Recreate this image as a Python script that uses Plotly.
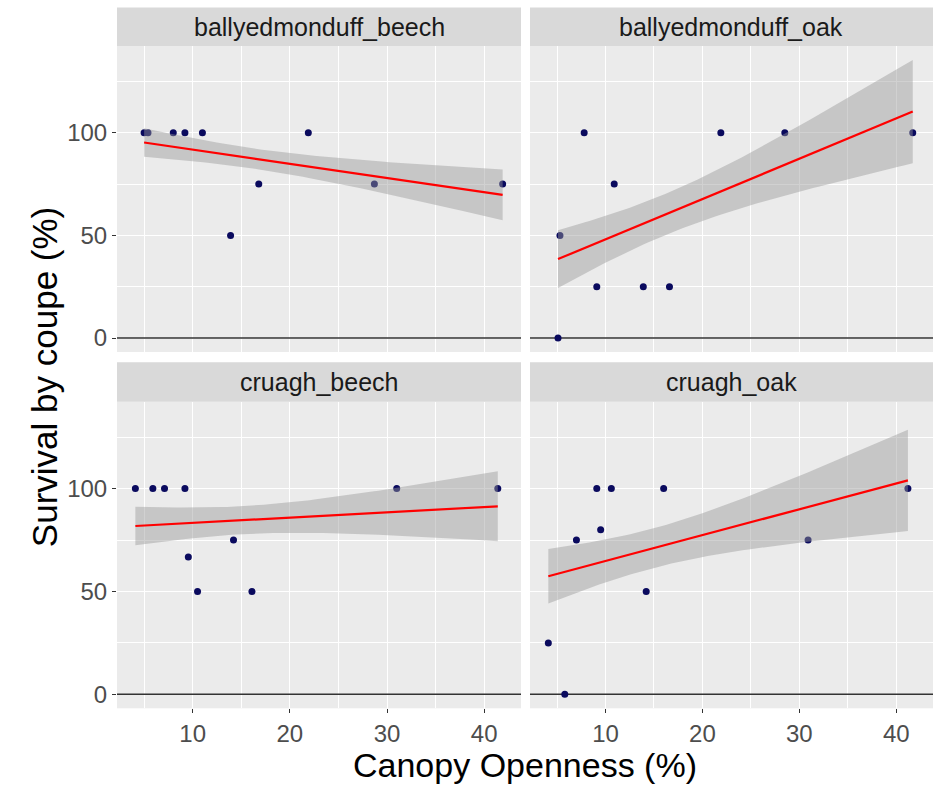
import math
import numpy as np
import plotly.graph_objects as go

# ---------------- data ----------------
panels = ["ballyedmonduff_beech", "ballyedmonduff_oak", "cruagh_beech", "cruagh_oak"]

# canopy openness (%) and survival (%) per coupe
bb_x = [5.0, 5.4, 8.0, 9.2, 11.0, 13.9, 16.8, 21.9, 28.7, 41.9]
bb_y = [100, 100, 100, 100, 100, 50, 75, 100, 75, 75]
bb_n = [4, 4, 4, 4, 4, 4, 4, 4, 4, 4]          # seedlings per coupe

bo_x = [5.1, 5.3, 7.8, 9.1, 10.9, 13.9, 16.6, 21.9, 28.5, 41.7]
bo_y = [0, 50, 100, 25, 75, 25, 25, 100, 100, 100]
bo_n = [4, 4, 4, 4, 4, 4, 4, 4, 4, 4]

cb_x = [4.1, 5.9, 7.1, 9.2, 9.55, 10.5, 14.2, 16.1, 31.0, 41.4]
cb_y = [100, 100, 100, 100, 66.7, 50, 75, 50, 100, 100]
cb_n = [4, 4, 4, 4, 3, 4, 4, 4, 4, 4]

co_x = [4.1, 5.8, 7.0, 9.1, 9.5, 10.6, 14.2, 16.0, 30.9, 41.2]
co_y = [25, 0, 75, 100, 80, 100, 50, 100, 75, 100]
co_n = [4, 4, 4, 4, 5, 4, 4, 4, 4, 4]

xs_data = [bb_x, bo_x, cb_x, co_x]
ys_data = [bb_y, bo_y, cb_y, co_y]
ns_data = [bb_n, bo_n, cb_n, co_n]

x_title = "Canopy Openness (%)"
y_title = "Survival by coupe (%)"
x_ticks = [10, 20, 30, 40]
y_ticks = [0, 50, 100]


def t975(dof):
    try:
        from scipy.stats import t as _t
        return float(_t.ppf(0.975, dof))
    except Exception:
        z = 1.959963985
        g1 = (z ** 3 + z) / 4
        g2 = (5 * z ** 5 + 16 * z ** 3 + 3 * z) / 96
        g3 = (3 * z ** 7 + 19 * z ** 5 + 17 * z ** 3 - 15 * z) / 384
        g4 = (79 * z ** 9 + 776 * z ** 7 + 1482 * z ** 5 - 1920 * z ** 3 - 945 * z) / 92160
        return z + g1 / dof + g2 / dof ** 2 + g3 / dof ** 3 + g4 / dof ** 4


def lm_band(x, y, n_rep, n=80):
    # one row per seedling (the coupe value repeated), as in the original data frame
    x = np.repeat(np.asarray(x, float), n_rep)
    y = np.repeat(np.asarray(y, float), n_rep)
    b, a = np.polyfit(x, y, 1)
    xs = np.linspace(x.min(), x.max(), n)
    fit = a + b * xs
    resid = y - (a + b * x)
    dof = len(x) - 2
    s = math.sqrt((resid ** 2).sum() / dof)
    sxx = ((x - x.mean()) ** 2).sum()
    se = s * np.sqrt(1.0 / len(x) + (xs - x.mean()) ** 2 / sxx)
    t = t975(dof)
    return xs, fit, fit - t * se, fit + t * se


fits = [lm_band(x, y, m) for x, y, m in zip(xs_data, ys_data, ns_data)]

# shared scales (ggplot-like 5% expansion)
all_x = np.concatenate([np.asarray(v, float) for v in xs_data])
xmin, xmax = all_x.min(), all_x.max()
xr = [xmin - 0.05 * (xmax - xmin), xmax + 0.05 * (xmax - xmin)]
all_y = np.concatenate([np.asarray(v, float) for v in ys_data] +
                       [f[2] for f in fits] + [f[3] for f in fits])
ymin, ymax = all_y.min(), all_y.max()
yr = [ymin - 0.05 * (ymax - ymin), ymax + 0.05 * (ymax - ymin)]

# ---------------- layout geometry ----------------
W, H = 944, 785
col_px = [(117, 521), (530, 933)]
row_px = [(46, 352), (401.7, 708.3)]        # panel top/bottom (px from top)
strip_px = [(7.5, 46), (362.3, 401.7)]      # strip top/bottom

FONT = "Liberation Sans, Arial, sans-serif"

fig = go.Figure()
layout = dict(
    width=W, height=H,
    margin=dict(l=0, r=0, t=0, b=0),
    paper_bgcolor="white",
    plot_bgcolor="#ebebeb",
    showlegend=False,
    font=dict(family=FONT),
)
shapes = []
annotations = []

for i, name in enumerate(panels):
    r, c = divmod(i, 2)
    sfx = "" if i == 0 else str(i + 1)
    xa, ya = "x" + sfx, "y" + sfx
    x0p, x1p = col_px[c]
    t0p, b0p = row_px[r]
    st, sb = strip_px[r]

    xdom = [x0p / W, x1p / W]
    ydom = [1 - b0p / H, 1 - t0p / H]

    show_x = (r == 1)
    show_y = (c == 0)

    layout["xaxis" + sfx] = dict(
        domain=xdom, anchor=ya, range=xr, autorange=False,
        tickmode="array", tickvals=x_ticks, ticktext=[str(v) for v in x_ticks],
        showticklabels=show_x, ticks="outside" if show_x else "",
        ticklen=4, tickwidth=1.3, tickcolor="#333333",
        tickfont=dict(family=FONT, size=24, color="#4d4d4d"),
        showgrid=True, gridcolor="white", gridwidth=1.4,
        minor=dict(showgrid=True, gridcolor="white", gridwidth=0.7, tick0=5, dtick=10),
        zeroline=False, showline=False, automargin=False, fixedrange=True,
    )
    layout["yaxis" + sfx] = dict(
        domain=ydom, anchor=xa, range=yr, autorange=False,
        tickmode="array", tickvals=y_ticks, ticktext=[str(v) for v in y_ticks],
        showticklabels=show_y, ticks="outside" if show_y else "",
        ticklen=4, tickwidth=1.3, tickcolor="#333333",
        tickfont=dict(family=FONT, size=24, color="#4d4d4d"),
        showgrid=True, gridcolor="white", gridwidth=1.4,
        minor=dict(showgrid=True, gridcolor="white", gridwidth=0.7, tick0=25, dtick=50),
        zeroline=False, showline=False, automargin=False, fixedrange=True,
    )

    # horizontal reference line at 0 across the whole panel
    fig.add_trace(go.Scatter(
        x=xr, y=[0, 0], mode="lines", xaxis=xa, yaxis=ya,
        line=dict(color="#333333", width=1.5), hoverinfo="skip",
    ))
    # points (drawn first, the band goes over them as in geom_smooth)
    fig.add_trace(go.Scatter(
        x=xs_data[i], y=ys_data[i], mode="markers", xaxis=xa, yaxis=ya,
        marker=dict(size=7, color="#0a0a5e", line=dict(width=0)),
        hoverinfo="skip",
    ))
    xs, fit, lo, hi = fits[i]
    fig.add_trace(go.Scatter(
        x=np.concatenate([xs, xs[::-1]]), y=np.concatenate([lo, hi[::-1]]),
        mode="lines", fill="toself", fillcolor="rgba(153,153,153,0.45)",
        line=dict(width=0), xaxis=xa, yaxis=ya, hoverinfo="skip",
    ))
    fig.add_trace(go.Scatter(
        x=xs, y=fit, mode="lines", line=dict(color="#ff0000", width=2.2),
        xaxis=xa, yaxis=ya, hoverinfo="skip",
    ))

    # strip
    shapes.append(dict(
        type="rect", xref="paper", yref="paper",
        x0=xdom[0], x1=xdom[1], y0=1 - sb / H, y1=1 - st / H,
        fillcolor="#d9d9d9", line=dict(width=0), layer="below",
    ))
    annotations.append(dict(
        text=name, xref="paper", yref="paper",
        x=(xdom[0] + xdom[1]) / 2, y=1 - (st + sb) / 2 / H,
        xanchor="center", yanchor="middle", showarrow=False,
        font=dict(family=FONT, size=25, color="#1a1a1a"),
    ))

# axis titles
annotations.append(dict(
    text=x_title, xref="paper", yref="paper",
    x=(col_px[0][0] + col_px[1][1]) / 2 / W, y=1 - 765 / H,
    xanchor="center", yanchor="middle", showarrow=False,
    font=dict(family=FONT, size=34, color="black"),
))
annotations.append(dict(
    text=y_title, xref="paper", yref="paper",
    x=44 / W, y=1 - (row_px[0][0] + row_px[1][1]) / 2 / H,
    xanchor="center", yanchor="middle", showarrow=False, textangle=-90,
    font=dict(family=FONT, size=35, color="black"),
))

layout["shapes"] = shapes
layout["annotations"] = annotations
fig.update_layout(**layout)

fig.write_html("out.html")
